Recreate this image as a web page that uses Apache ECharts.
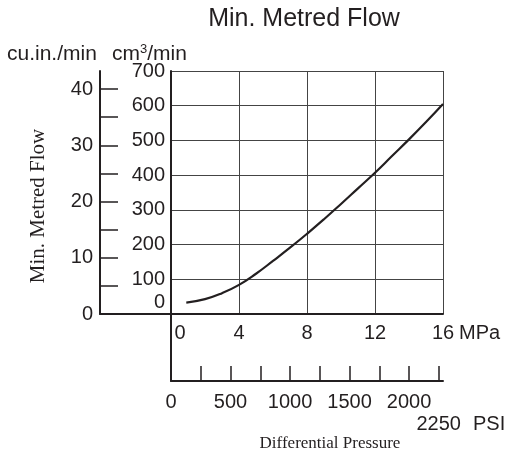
<!DOCTYPE html>
<html>
<head>
<meta charset="utf-8">
<script src="https://cdn.jsdelivr.net/npm/echarts@6/dist/echarts.min.js"></script>
<style>html,body{margin:0;padding:0;background:#fff}#c{width:515px;height:458px}</style>
</head>
<body>
<div id="c"></div>
<script>
// ---- data ----
const pressureMPa = [0.9, 2, 3, 4, 5, 6, 7, 8, 9, 10, 11, 12, 13, 14, 15, 16];
const flowCm3     = [33, 43, 60, 84, 116, 153, 191, 231, 273, 317, 362, 407, 455, 503, 553, 605];
const psiTicks  = [0, 250, 500, 750, 1000, 1250, 1500, 1750, 2000, 2250];
const psiLabels = [0, 500, 1000, 1500, 2000];
const psiEndLabel = [2250];
const cuinTicks  = [0, 5, 10, 15, 20, 25, 30, 35, 40];
const cuinLabels = [0, 10, 20, 30, 40];

const C = '#231f20';
const SANS = '"Liberation Sans", Arial, sans-serif';
const SERIF = '"Liberation Serif", "Times New Roman", serif';
const lbl = { color: C, fontFamily: SANS, fontSize: 20 };
const axLine = { show: true, lineStyle: { color: C, width: 2 } };
const split = { show: true, lineStyle: { color: '#444', width: 1 } };

const chart = echarts.init(document.getElementById('c'), null, { renderer: 'canvas' });
chart.setOption({
  animation: false,
  backgroundColor: '#fff',
  title: {
    text: 'Min. Metred Flow', left: 304, top: 7, textAlign: 'center', padding: 0,
    textStyle: { color: C, fontFamily: SANS, fontSize: 25, fontWeight: 'normal' }
  },
  grid: [
    { left: 171, right: 72, top: 71, bottom: 144, outerBoundsMode: 'none' },
    { left: 100, width: 71, top: 71, bottom: 144, outerBoundsMode: 'none' },
    { left: 171, right: 72, top: 314, bottom: 77, outerBoundsMode: 'none' }
  ],
  xAxis: [
    {
      gridIndex: 0, type: 'value', min: 0, max: 16, interval: 4,
      axisLine: axLine, axisTick: { show: false }, splitLine: split,
      axisLabel: Object.assign({}, lbl, {
        margin: 9,
        formatter: v => v === 0 ? '{z|0}' : String(v),
        rich: { z: Object.assign({}, lbl, { padding: [0, 0, 0, 18] }) }
      })
    },
    {
      gridIndex: 1, type: 'value', min: 0, max: 1,
      axisLine: axLine, axisTick: { show: false }, axisLabel: { show: false }, splitLine: { show: false }
    },
    {
      gridIndex: 2, type: 'value', min: 0, max: 2285, position: 'bottom',
      axisLine: axLine, splitLine: { show: false },
      axisTick: { show: true, inside: true, length: 15, customValues: psiTicks, lineStyle: { color: C, width: 1.5 } },
      axisLabel: Object.assign({}, lbl, { customValues: psiLabels, margin: 10, lineHeight: 22, formatter: v => String(v) })
    },
    {
      gridIndex: 2, type: 'value', min: 0, max: 2285, position: 'bottom',
      axisLine: { show: false }, axisTick: { show: false }, splitLine: { show: false },
      axisLabel: Object.assign({}, lbl, {
        customValues: psiEndLabel, margin: 32, lineHeight: 22,
        formatter: v => '{n|' + v + '}{u|PSI}',
        rich: {
          n: Object.assign({}, lbl, { lineHeight: 22, padding: [0, 0, 0, 44] }),
          u: Object.assign({}, lbl, { lineHeight: 22, padding: [0, 0, 0, 12] })
        }
      })
    }
  ],
  yAxis: [
    {
      gridIndex: 0, type: 'value', min: 0, max: 700, interval: 100,
      axisLine: axLine, axisTick: { show: false }, splitLine: split,
      axisLabel: Object.assign({}, lbl, {
        margin: 6,
        formatter: v => v === 0 ? '{z|0}' : String(v),
        rich: { z: Object.assign({}, lbl, { padding: [0, 0, 23, 0] }) }
      })
    },
    {
      gridIndex: 1, type: 'value', min: 0, max: 43.2, position: 'left',
      axisLine: axLine, splitLine: { show: false },
      axisTick: { show: true, inside: true, length: 18, customValues: cuinTicks, lineStyle: { color: C, width: 1.5 } },
      axisLabel: Object.assign({}, lbl, { margin: 7, customValues: cuinLabels })
    },
    {
      gridIndex: 2, type: 'value', min: 0, max: 1,
      axisLine: axLine, axisTick: { show: false }, axisLabel: { show: false }, splitLine: { show: false }
    }
  ],
  graphic: [
    { type: 'text', x: 7, y: 54, style: { text: 'cu.in./min', fill: C, font: '21px ' + SANS, verticalAlign: 'middle' } },
    { type: 'text', x: 112, y: 54, style: {
        text: '{a|cm}{s|3}{a|/min}', verticalAlign: 'middle',
        rich: {
          a: { fill: C, fontFamily: SANS, fontSize: 21, lineHeight: 22 },
          s: { fill: C, fontFamily: SANS, fontSize: 13, lineHeight: 22, verticalAlign: 'top' }
        }
    } },
    { type: 'text', x: 459, y: 333, style: { text: 'MPa', fill: C, font: '20px ' + SANS, verticalAlign: 'middle' } },
    { type: 'text', x: 38, y: 206, rotation: Math.PI / 2, style: {
        text: 'Min. Metred Flow', fill: C, font: '21px ' + SERIF, align: 'center', verticalAlign: 'middle' } },
    { type: 'text', x: 330, y: 444, style: {
        text: 'Differential Pressure', fill: C, font: '17px ' + SERIF, align: 'center', verticalAlign: 'middle' } }
  ],
  series: [
    {
      type: 'line', xAxisIndex: 0, yAxisIndex: 0, smooth: 0.5, symbol: 'none',
      lineStyle: { color: C, width: 2.2 },
      data: pressureMPa.map((x, i) => [x, flowCm3[i]])
    }
  ]
});
</script>
</body>
</html>
